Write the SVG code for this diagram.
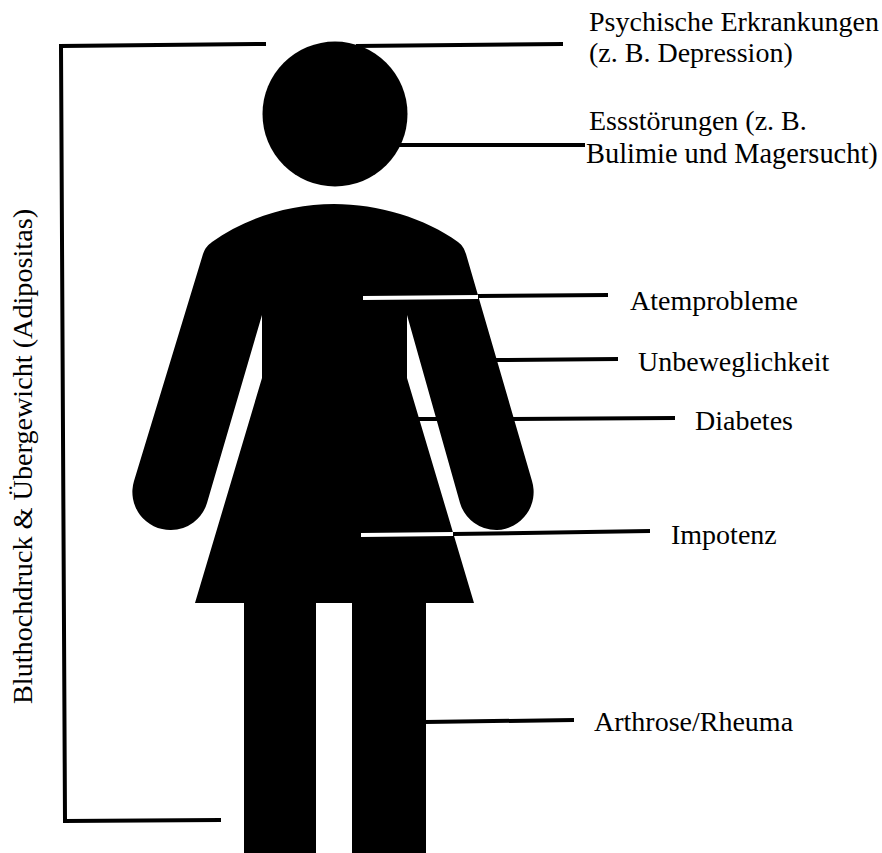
<svg xmlns="http://www.w3.org/2000/svg" width="882" height="853" viewBox="0 0 882 853">
<style>
text{font-family:"Liberation Serif","Times New Roman",serif;font-size:28px;fill:#000}
.k{fill:none;stroke:#000;stroke-width:4}
.w{fill:none;stroke:#fff;stroke-width:4}
</style>
<rect width="882" height="853" fill="#fff"/>
<g id="figure">
<circle cx="335" cy="114" r="72.5" fill="#000"/>
<path d="M203 254C205 248 208 245 212 242C245 218 290 204 334 204C378 204 425 218 458 242C462 245 464 248 466 254L532 481A38 38 0 0 1 497 530A38 38 0 0 1 460 503L407 315L407 378L474 603L426 603L426 853L352 853L352 603L316 603L316 853L244 853L244 603L195 603L262 378L262 315L207 503A38 38 0 0 1 171 530A38 38 0 0 1 134 481Z" fill="#000"/>
</g>
<g id="connectors">
<path class="k" d="M266 44L61 46L65 821L221 820"/>
<path class="k" d="M356 46L563 44"/>
<path class="k" d="M396 145L585 145"/>
<path class="w" d="M363 298L478 297"/>
<path class="k" d="M478 296L608 295"/>
<path class="k" d="M495 360L618 359"/>
<path class="k" d="M418 419L440 419"/>
<path class="k" d="M512 419L675 418"/>
<path class="w" d="M361 535L453 534"/>
<path class="k" d="M453 534L650 531"/>
<path class="k" d="M425 722L574 720"/>
</g>
<g id="labels">
<text x="589" y="31">Psychische Erkrankungen</text>
<text x="589" y="62">(z. B. Depression)</text>
<text x="589" y="130">Essstörungen (z. B.</text>
<text x="586" y="163" style="font-size:28.4px">Bulimie und Magersucht)</text>
<text x="630" y="310">Atemprobleme</text>
<text x="638" y="371">Unbeweglichkeit</text>
<text x="695" y="430">Diabetes</text>
<text x="671" y="544">Impotenz</text>
<text x="594" y="731">Arthrose/Rheuma</text>
<text transform="translate(32 704) rotate(-90)" style="font-size:28.2px">Bluthochdruck &amp; Übergewicht (Adipositas)</text>
</g>
</svg>
